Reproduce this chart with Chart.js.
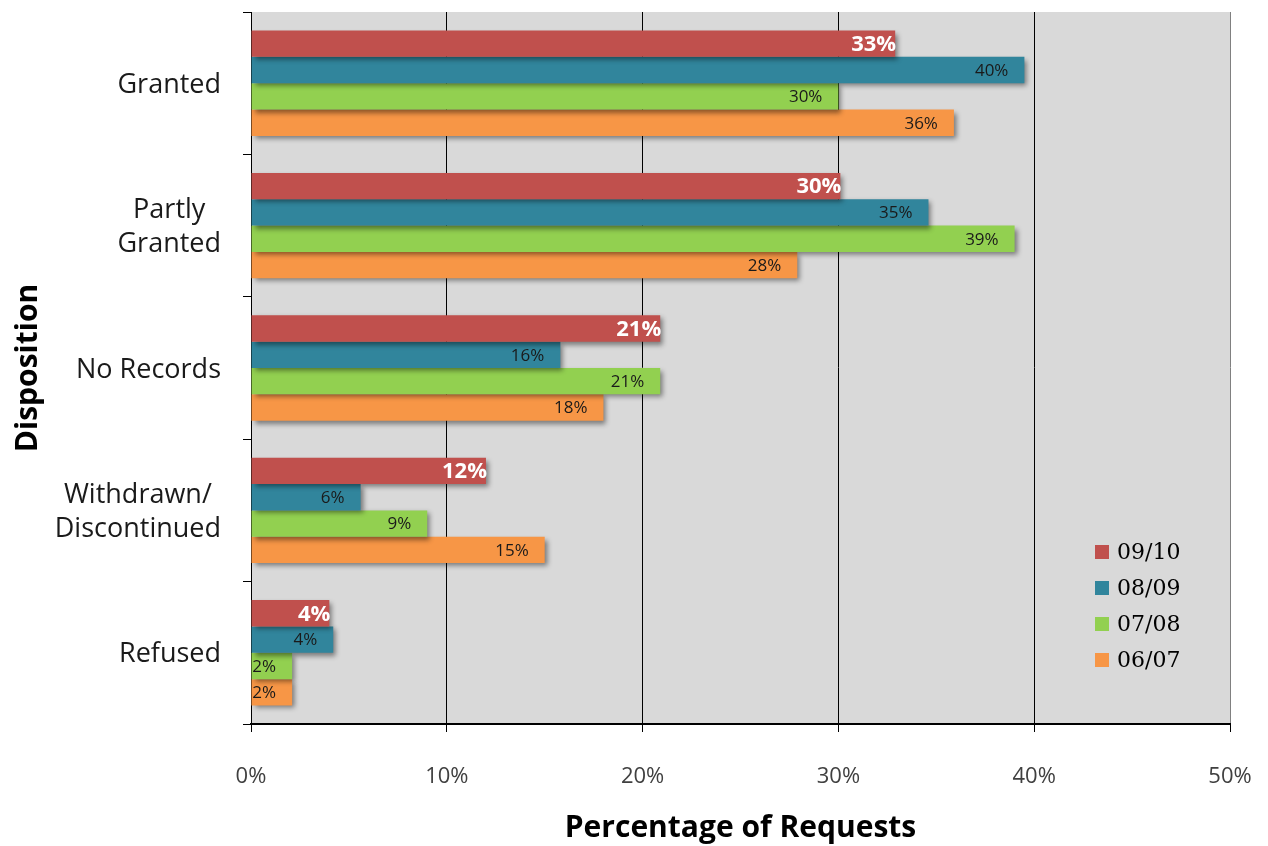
<!DOCTYPE html>
<html><head><meta charset="utf-8">
<script src="https://cdn.jsdelivr.net/npm/chart.js@4.4.0/dist/chart.umd.min.js"></script>
<style>html,body{margin:0;padding:0;background:#fff;}</style>
</head><body>
<canvas id="c" width="1268" height="846" style="display:block;width:1268px;height:846px"></canvas>
<script>
const categories = [["Granted"], ["Partly", "Granted"], ["No Records"], ["Withdrawn/", "Discontinued"], ["Refused"]];
const seriesLabels = ["09/10", "08/09", "07/08", "06/07"];
const values0910 = [32.9, 30.1, 20.9, 12.0, 4.0];
const values0809 = [39.5, 34.6, 15.8, 5.6, 4.2];
const values0708 = [30.0, 39.0, 20.9, 9.0, 2.1];
const values0607 = [35.9, 27.9, 18.0, 15.0, 2.1];
const xTickValues = [0, 10, 20, 30, 40, 50];
const seriesColors = ["#C0504D", "#31859C", "#92D050", "#F79646"];

const FONT = "'Open Sans', Lato, sans-serif";
const seriesValues = [values0910, values0809, values0708, values0607];

const bgPlugin = {
  id: 'bg',
  beforeDraw(chart) {
    const {ctx, chartArea: a} = chart;
    ctx.save();
    ctx.fillStyle = '#d9d9d9';
    ctx.fillRect(a.left, a.top, a.right - a.left, a.bottom - a.top);
    ctx.restore();
  }
};

// category labels: block right-aligned to the axis, lines centred within block
const catLabelPlugin = {
  id: 'catLabels',
  afterDraw(chart) {
    const ctx = chart.ctx;
    const ys = chart.scales.y;
    const lineH = 34;
    const right = ys.right - 30;
    ctx.save();
    ctx.font = "27px " + FONT;
    ctx.fillStyle = '#1a1a1a';
    ctx.textAlign = 'center';
    ctx.textBaseline = 'middle';
    chart.data.labels.forEach((lines, i) => {
      const yc = ys.getPixelForValue(i) + 2;
      const w = Math.max(...lines.map(l => ctx.measureText(l).width));
      const cx = right - w / 2;
      lines.forEach((l, j) => {
        const y = yc + (j - (lines.length - 1) / 2) * lineH;
        ctx.fillText(l, cx, y);
      });
    });
    ctx.restore();
  }
};

const shadowLabelPlugin = {
  id: 'shadowLabels',
  beforeDatasetsDraw(chart) {
    const ctx = chart.ctx;
    ctx.save();
    ctx.shadowColor = 'rgba(0,0,0,0.45)';
    ctx.shadowBlur = 5;
    ctx.shadowOffsetX = 3;
    ctx.shadowOffsetY = 3;
  },
  afterDatasetsDraw(chart) {
    const ctx = chart.ctx;
    ctx.restore();
    ctx.save();
    ctx.textAlign = 'right';
    ctx.textBaseline = 'middle';
    chart.data.datasets.forEach((ds, di) => {
      const meta = chart.getDatasetMeta(di);
      meta.data.forEach((bar, i) => {
        const txt = Math.round(ds.data[i]) + '%';
        if (di === 0) {
          ctx.font = "bold 22px " + FONT;
          ctx.fillStyle = '#ffffff';
          ctx.fillText(txt, bar.x + 1, bar.y + 1);
        } else {
          ctx.font = "17px " + FONT;
          ctx.fillStyle = '#1a1a1a';
          ctx.fillText(txt, bar.x - 16, bar.y + 1);
        }
      });
    });
    // legend
    const lx = 1095, ly0 = 552, step = 36;
    chart.data.datasets.forEach((ds, di) => {
      const y = ly0 + di * step;
      ctx.fillStyle = ds.backgroundColor;
      ctx.fillRect(lx, y - 7, 14, 14);
      ctx.fillStyle = '#000';
      ctx.textAlign = 'left';
      ctx.font = "22px 'DejaVu Serif', serif";
      ctx.fillText(ds.label, lx + 22, y + 1);
    });
    ctx.restore();
  }
};

new Chart(document.getElementById('c'), {
  type: 'bar',
  data: {
    labels: categories,
    datasets: seriesLabels.map((lab, i) => ({
      label: lab,
      data: seriesValues[i],
      backgroundColor: seriesColors[i],
      borderWidth: 0,
      categoryPercentage: 0.74,
      barPercentage: 1.0
    }))
  },
  options: {
    indexAxis: 'y',
    responsive: false,
    animation: false,
    devicePixelRatio: 1,
    layout: {padding: {top: 12, right: 38, left: 0, bottom: 0}},
    plugins: {legend: {display: false}, tooltip: {enabled: false}},
    scales: {
      x: {
        min: 0, max: 50,
        afterBuildTicks(s) { s.ticks = xTickValues.map(v => ({value: v})); },
        afterFit(s) { s.height = 122; s.paddingLeft = 0; s.paddingRight = 0; },
        ticks: {
          callback: v => v + '%',
          font: {family: FONT, size: 22},
          color: '#404040',
          padding: 32
        },
        grid: {
          color: ctx => (ctx.index === 5 ? '#808080' : '#000000'),
          lineWidth: 1,
          drawTicks: true,
          tickLength: 8,
          tickColor: '#000'
        },
        border: {color: '#000', width: 2},
        title: {
          display: true,
          text: 'Percentage of Requests',
          font: {family: FONT, size: 30, weight: 'bold'},
          color: '#000',
          padding: {top: 0, bottom: 0}
        }
      },
      y: {
        afterFit(s) { s.width = 251; s.paddingTop = 0; s.paddingBottom = 0; },
        ticks: {
          display: false
        },
        grid: {
          offset: true,
          drawOnChartArea: false,
          drawTicks: true,
          tickLength: 8,
          color: '#000'
        },
        border: {color: '#000', width: 1},
        title: {
          display: true,
          text: 'Disposition',
          font: {family: FONT, size: 30, weight: 'bold'},
          color: '#000',
          padding: {top: 10, bottom: 0}
        }
      }
    }
  },
  plugins: [bgPlugin, shadowLabelPlugin, catLabelPlugin]
});
</script>
</body></html>
